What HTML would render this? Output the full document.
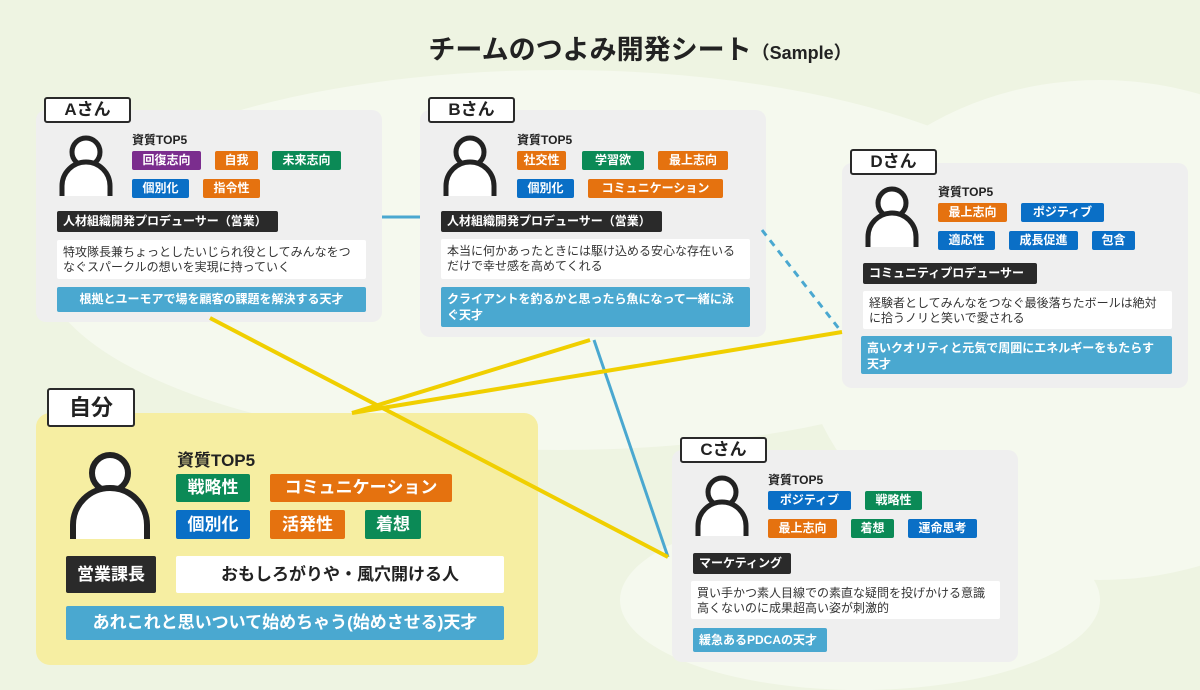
<!DOCTYPE html>
<html><head><meta charset="utf-8"><style>
*{margin:0;padding:0;box-sizing:border-box}
html,body{width:1200px;height:690px;overflow:hidden}
body{position:relative;background:#eef4e2;font-family:"Liberation Sans","Noto Sans CJK JP",sans-serif;color:#222}
.a{position:absolute}
.card{position:absolute;background:#efefef;border-radius:10px}
.tab{position:absolute;background:#fff;border:2px solid #2a2a2a;border-radius:3px;font-weight:bold;font-size:17px;text-align:center;line-height:22px}
.t{position:absolute;color:#fff;font-weight:bold;font-size:12px;text-align:center;line-height:19px;height:19px;border-radius:2px;white-space:nowrap}
.p{background:#7b2d8e}.o{background:#e5720f}.g{background:#0b8a56}.b{background:#0a6fc6}
.k{position:absolute;background:#2a2a2a;color:#fff;font-weight:bold;font-size:12px;line-height:21px;padding-left:6px;border-radius:2px;white-space:nowrap}
.w{position:absolute;background:#fff;font-size:12px;line-height:15px;padding:5px 6px;border-radius:2px;color:#333}
.bl{position:absolute;background:#4aa8d0;color:#fff;font-weight:bold;font-size:12px;line-height:16px;padding:4px 6px;border-radius:2px}
.h{position:absolute;font-weight:bold;font-size:12px}
</style></head><body>
<svg class="a" style="left:0;top:0" width="1200" height="690">
<ellipse cx="560" cy="260" rx="520" ry="190" fill="#f5f9ee"/>
<ellipse cx="1100" cy="330" rx="300" ry="250" fill="#f5f9ee"/>
<ellipse cx="860" cy="600" rx="240" ry="90" fill="#f5f9ee"/>
</svg>
<div class="a" style="left:0;top:28px;width:1200px;padding-left:80px;text-align:center;font-size:27px;font-weight:bold;color:#222;white-space:nowrap">チームのつよみ開発シート<span style="font-size:18px">（Sample）</span></div>

<!-- A -->
<div class="card" style="left:36px;top:110px;width:346px;height:212px"></div>
<div class="tab" style="left:44px;top:97px;width:87px;height:26px">Aさん</div>
<svg class="a" style="left:58px;top:134px" width="56" height="64"><circle cx="28" cy="18" r="14" fill="#fff" stroke="#222" stroke-width="5"/><path d="M4 62 V52 A24 24 0 0 1 52 52 V62" fill="#fff" stroke="#222" stroke-width="5"/></svg>
<div class="h" style="left:132px;top:131px">資質TOP5</div>
<div class="t p" style="left:132px;top:151px;width:69px">回復志向</div>
<div class="t o" style="left:215px;top:151px;width:43px">自我</div>
<div class="t g" style="left:272px;top:151px;width:69px">未来志向</div>
<div class="t b" style="left:132px;top:179px;width:57px">個別化</div>
<div class="t o" style="left:203px;top:179px;width:57px">指令性</div>
<div class="k" style="left:57px;top:211px;width:221px">人材組織開発プロデューサー（営業）</div>
<div class="w" style="left:57px;top:240px;width:309px;height:39px">特攻隊長兼ちょっとしたいじられ役としてみんなをつなぐスパークルの想いを実現に持っていく</div>
<div class="bl" style="left:57px;top:287px;width:309px;height:25px;text-align:center">根拠とユーモアで場を顧客の課題を解決する天才</div>

<!-- B -->
<div class="card" style="left:420px;top:110px;width:346px;height:227px"></div>
<div class="tab" style="left:428px;top:97px;width:87px;height:26px">Bさん</div>
<svg class="a" style="left:442px;top:134px" width="56" height="64"><circle cx="28" cy="18" r="14" fill="#fff" stroke="#222" stroke-width="5"/><path d="M4 62 V52 A24 24 0 0 1 52 52 V62" fill="#fff" stroke="#222" stroke-width="5"/></svg>
<div class="h" style="left:517px;top:131px">資質TOP5</div>
<div class="t o" style="left:517px;top:151px;width:49px">社交性</div>
<div class="t g" style="left:582px;top:151px;width:62px">学習欲</div>
<div class="t o" style="left:658px;top:151px;width:70px">最上志向</div>
<div class="t b" style="left:517px;top:179px;width:57px">個別化</div>
<div class="t o" style="left:588px;top:179px;width:135px">コミュニケーション</div>
<div class="k" style="left:441px;top:211px;width:221px">人材組織開発プロデューサー（営業）</div>
<div class="w" style="left:441px;top:239px;width:309px;height:40px">本当に何かあったときには駆け込める安心な存在いるだけで幸せ感を高めてくれる</div>
<div class="bl" style="left:441px;top:287px;width:309px;height:40px">クライアントを釣るかと思ったら魚になって一緒に泳ぐ天才</div>

<!-- D -->
<div class="card" style="left:842px;top:163px;width:346px;height:225px"></div>
<div class="tab" style="left:850px;top:149px;width:87px;height:26px">Dさん</div>
<svg class="a" style="left:864px;top:185px" width="56" height="64"><circle cx="28" cy="18" r="14" fill="#fff" stroke="#222" stroke-width="5"/><path d="M4 62 V52 A24 24 0 0 1 52 52 V62" fill="#fff" stroke="#222" stroke-width="5"/></svg>
<div class="h" style="left:938px;top:183px">資質TOP5</div>
<div class="t o" style="left:938px;top:203px;width:69px">最上志向</div>
<div class="t b" style="left:1021px;top:203px;width:83px">ポジティブ</div>
<div class="t b" style="left:938px;top:231px;width:57px">適応性</div>
<div class="t b" style="left:1009px;top:231px;width:69px">成長促進</div>
<div class="t b" style="left:1092px;top:231px;width:43px">包含</div>
<div class="k" style="left:863px;top:263px;width:174px">コミュニティプロデューサー</div>
<div class="w" style="left:863px;top:291px;width:309px;height:38px">経験者としてみんなをつなぐ最後落ちたボールは絶対に拾うノリと笑いで愛される</div>
<div class="bl" style="left:861px;top:336px;width:311px;height:38px">高いクオリティと元気で周囲にエネルギーをもたらす天才</div>

<!-- C -->
<div class="card" style="left:672px;top:450px;width:346px;height:212px"></div>
<div class="tab" style="left:680px;top:437px;width:87px;height:26px">Cさん</div>
<svg class="a" style="left:694px;top:474px" width="56" height="64"><circle cx="28" cy="18" r="14" fill="#fff" stroke="#222" stroke-width="5"/><path d="M4 62 V52 A24 24 0 0 1 52 52 V62" fill="#fff" stroke="#222" stroke-width="5"/></svg>
<div class="h" style="left:768px;top:471px">資質TOP5</div>
<div class="t b" style="left:768px;top:491px;width:83px">ポジティブ</div>
<div class="t g" style="left:865px;top:491px;width:57px">戦略性</div>
<div class="t o" style="left:768px;top:519px;width:69px">最上志向</div>
<div class="t g" style="left:851px;top:519px;width:43px">着想</div>
<div class="t b" style="left:908px;top:519px;width:69px">運命思考</div>
<div class="k" style="left:693px;top:553px;width:98px">マーケティング</div>
<div class="w" style="left:691px;top:581px;width:309px;height:38px">買い手かつ素人目線での素直な疑問を投げかける意識高くないのに成果超高い姿が刺激的</div>
<div class="bl" style="left:693px;top:628px;width:134px;height:24px">緩急あるPDCAの天才</div>

<!-- self -->
<div class="card" style="left:36px;top:413px;width:502px;height:252px;background:#f6eea2;border-radius:14px"></div>
<div class="tab" style="left:47px;top:388px;width:88px;height:39px;font-size:22px;line-height:35px">自分</div>
<svg class="a" style="left:69px;top:449px" width="84" height="92"><circle cx="41" cy="24" r="18" fill="#fff" stroke="#222" stroke-width="6"/><path d="M4 90 V76 A37 37 0 0 1 78 76 V90" fill="#fff" stroke="#222" stroke-width="6"/></svg>
<div class="h" style="left:177px;top:446px;font-size:17px">資質TOP5</div>
<div class="t g" style="left:176px;top:474px;width:74px;height:28px;line-height:28px;font-size:17px">戦略性</div>
<div class="t o" style="left:270px;top:474px;width:182px;height:28px;line-height:28px;font-size:17px">コミュニケーション</div>
<div class="t b" style="left:176px;top:510px;width:74px;height:29px;line-height:29px;font-size:17px">個別化</div>
<div class="t o" style="left:270px;top:510px;width:75px;height:29px;line-height:29px;font-size:17px">活発性</div>
<div class="t g" style="left:365px;top:510px;width:56px;height:29px;line-height:29px;font-size:17px">着想</div>
<div class="k" style="left:66px;top:556px;width:90px;height:37px;line-height:37px;font-size:17px;padding:0;text-align:center">営業課長</div>
<div class="w" style="left:176px;top:556px;width:328px;height:37px;font-size:17px;line-height:27px;text-align:center;font-weight:bold;color:#222">おもしろがりや・風穴開ける人</div>
<div class="bl" style="left:66px;top:606px;width:438px;height:34px;font-size:17px;line-height:26px;text-align:center">あれこれと思いついて始めちゃう(始めさせる)天才</div>

<svg class="a" style="left:0;top:0" width="1200" height="690">
<line x1="382" y1="217" x2="420" y2="217" stroke="#4aa8d0" stroke-width="3"/>
<line x1="594" y1="340" x2="668" y2="557" stroke="#4aa8d0" stroke-width="3"/>
<line x1="762" y1="230" x2="840" y2="330" stroke="#4aa8d0" stroke-width="3" stroke-dasharray="7,6"/>
<line x1="210" y1="318" x2="668" y2="557" stroke="#f0cf00" stroke-width="4"/>
<line x1="352" y1="413" x2="590" y2="340" stroke="#f0cf00" stroke-width="4"/>
<line x1="352" y1="413" x2="842" y2="332" stroke="#f0cf00" stroke-width="4"/>
</svg>
</body></html>
